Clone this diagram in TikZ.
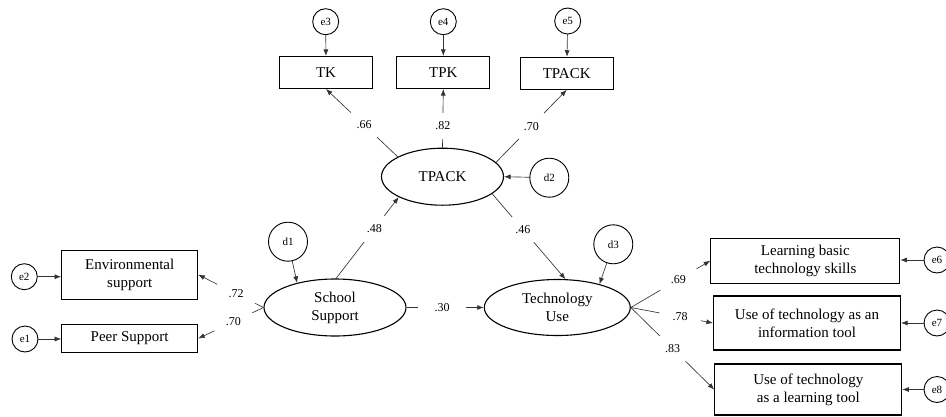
\documentclass[tikz,border=0pt]{standalone}
\usepackage{fontspec}
\setmainfont{Liberation Serif}
\usetikzlibrary{arrows.meta,shapes.geometric}
\begin{document}
\begin{tikzpicture}[x=1pt,y=-1pt,
  every node/.style={inner sep=0pt},
  obs/.style={draw, line width=1.1pt, font=\fontsize{15}{18}\selectfont, align=center},
  lat/.style={draw, ellipse, line width=1.1pt, font=\fontsize{15}{18}\selectfont, align=center},
  err/.style={draw, circle, line width=0.9pt, minimum size=26pt, font=\fontsize{11}{13}\selectfont},
  dist/.style={draw, circle, line width=0.9pt, minimum size=39pt, font=\fontsize{11}{13}\selectfont},
  con/.style={line width=0.65pt, draw=black!80, -{Latex[length=6.5pt,width=5pt]}},
  lbl/.style={circle, fill=white, minimum size=#1, font=\fontsize{12}{14}\selectfont, inner sep=0pt},
  lbl/.default=36pt]
\useasboundingbox (0,0) rectangle (946,416);

% observed boxes
\node[obs, minimum width=93pt, minimum height=32pt] (tk) at (326,72.5) {TK};
\node[obs, minimum width=93pt, minimum height=32pt] (tpk) at (443.3,72.5) {TPK};
\node[obs, minimum width=93pt, minimum height=32pt] (tpb) at (566.7,73.3) {TPACK};
\node[obs, minimum width=136pt, minimum height=49pt] (env) at (129.7,274.7) {Environmental\\support};
\node[obs, minimum width=136pt, minimum height=28pt] (peer) at (129.7,338.5) {Peer Support};
\node[obs, minimum width=189pt, minimum height=45pt] (lb) at (805.3,260.8) {Learning basic\\technology skills};
\node[obs, minimum width=187pt, minimum height=54pt] (ui) at (807,323) {Use of technology as an\\information tool};
\node[obs, minimum width=187pt, minimum height=51pt] (ul) at (808.3,389.5) {Use of technology\\as a learning tool};

% latent ellipses
\node[lat, minimum width=122pt, minimum height=57pt] (tp) at (442.5,176.7) {TPACK};
\node[lat, minimum width=142pt, minimum height=57pt] (ss) at (335,307.5) {School\\Support};
\node[lat, minimum width=146pt, minimum height=56pt] (tu) at (557.3,307.5) {Technology\\Use};

% error / disturbance circles
\node[err] (e3) at (325.7,21.7) {e3};
\node[err] (e4) at (443.3,21.7) {e4};
\node[err] (e5) at (567.7,21) {e5};
\node[err] (e2) at (24.3,276.7) {e2};
\node[err] (e1) at (25,339) {e1};
\node[err] (e6) at (937,260) {e6};
\node[err] (e7) at (937,323) {e7};
\node[err] (e8) at (937,389.5) {e8};
\node[dist] (d1) at (288,241.7) {d1};
\node[dist] (d2) at (549.3,177.7) {d2};
\node[dist] (d3) at (613.3,244.3) {d3};

% error arrows
\draw[con] (e3) -- (tk);
\draw[con] (e4) -- (tpk);
\draw[con] (e5) -- (tpb);
\draw[con] (e2) -- (e2 -| env.west);
\draw[con] (e1) -- (e1 -| peer.west);
\draw[con] (e6) -- (e6 -| lb.east);
\draw[con] (e7) -- (e7 -| ui.east);
\draw[con] (e8) -- (e8 -| ul.east);
\draw[con] (d1) -- (ss.147);
\draw[con] (d2) -- (tp.east);
\draw[con] (d3) -- (tu.29);

% structural paths and loadings
\draw[con] (ss.88) -- node[lbl=33pt,pos=0.61]{.48} (tp.205);
\draw[con] (tp.-19) -- node[lbl=33pt,pos=0.42]{.46} (tu.74);
\draw[con] (ss.east) -- node[lbl=48pt,pos=0.46]{.30} (tu.west);
\draw[con] (tp.156) -- node[lbl=36pt,pos=0.47]{.66} (tk.south);
\draw[con] (tp.north) -- node[lbl=26pt,pos=0.37]{.82} (tpk.south);
\draw[con] (tp.15) -- node[lbl=36pt,pos=0.5]{.70} (tpb.south);
\draw[con] (ss.west) -- node[lbl=42pt,pos=0.42]{.72} (env.east);
\draw[con] (ss.west) -- node[lbl=42pt,pos=0.46]{.70} (peer.east);
\draw[con] (tu.east) -- node[lbl=42pt,pos=0.6]{.69} (lb.west);
\draw[con] (tu.east) -- node[lbl=42pt,pos=0.6]{.78} (ui.west);
\draw[con] (tu.east) -- node[lbl=36pt,pos=0.5]{.83} (ul.west);
\end{tikzpicture}
\end{document}
